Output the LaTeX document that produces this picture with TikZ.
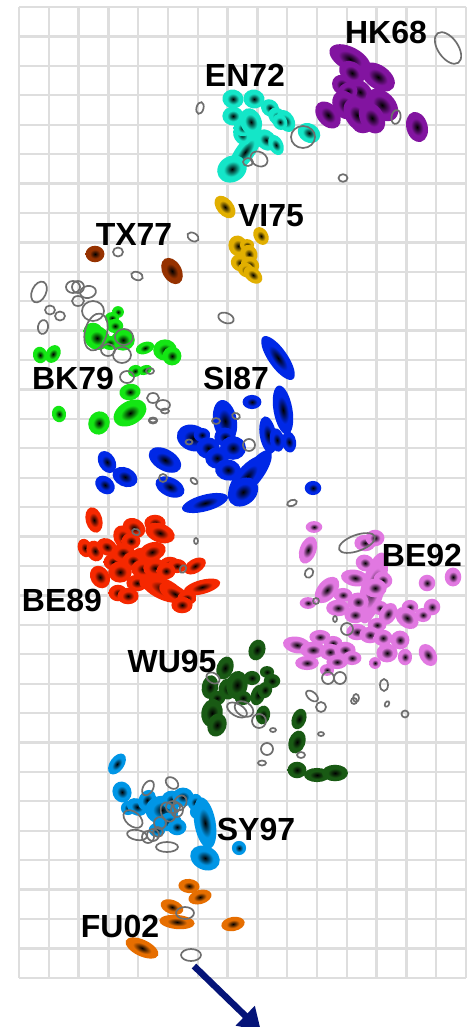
\documentclass[tikz,border=0pt]{standalone}
\usepackage{fontspec}
\setmainfont{Liberation Sans}
\usetikzlibrary{arrows.meta}
\definecolor{cHK}{RGB}{130,20,160}
\definecolor{cEN}{RGB}{20,230,200}
\definecolor{cVI}{RGB}{225,175,0}
\definecolor{cTX}{RGB}{150,50,0}
\definecolor{cBK}{RGB}{20,230,20}
\definecolor{cSI}{RGB}{0,40,230}
\definecolor{cBEa}{RGB}{245,40,0}
\definecolor{cBEb}{RGB}{225,120,225}
\definecolor{cWU}{RGB}{25,90,20}
\definecolor{cSY}{RGB}{0,150,230}
\definecolor{cFU}{RGB}{230,110,0}
\definecolor{gridc}{RGB}{222,222,222}
\definecolor{ellg}{RGB}{110,110,110}
\definecolor{arrc}{RGB}{5,20,120}
\colorlet{blobc}{red}
\pgfdeclareradialshading[blobc]{blobsh}{\pgfpoint{0bp}{0bp}}{color(0bp)=(black);color(14bp)=(blobc);color(25bp)=(blobc);color(50bp)=(blobc)}
\newcommand\bl[5]{\begin{scope}[transform canvas={shift={(#1,#2)},rotate=#5}]\shade[shading=blobsh] (0,0) ellipse [x radius={1.18*#3}, y radius={1.18*#4}];\end{scope}}
\newcommand\gr[5]{\draw[grayell,shift={(#1,#2)},rotate=#5] (0,0) ellipse [x radius=#3, y radius=#4];}
\tikzset{
  grayell/.style={draw=ellg,line width=1.7pt},
  gridl/.style={draw=gridc,line width=2.3pt},
  lab/.style={font=\fontsize{32}{32}\selectfont\bfseries,inner sep=0pt,text=black},
}
\begin{document}
\begin{tikzpicture}[x=1pt,y=-1pt]
\useasboundingbox (0,0) rectangle (466,1027);
\fill[white] (0,0) rectangle (466,1027);
% grid
\foreach \i in {0,...,15} \draw[gridl] ({19+29.8*\i},7) -- ({19+29.8*\i},978);
\foreach \j in {0,...,33} \draw[gridl] (19,{7+29.42*\j}) -- (466,{7+29.42*\j});
% HK68
\colorlet{blobc}{cHK}
\bl{350}{59}{19}{10}{-28}
\bl{378}{77}{16}{10}{-35}
\bl{352}{73}{12}{9}{-40}
\bl{342}{85}{9}{8}{-50}
\bl{360}{92}{12}{9}{-45}
\bl{348}{91}{8}{7}{0}
\bl{382}{105}{16}{11}{-45}
\bl{363}{125}{9}{7}{0}
\bl{345}{105}{13}{10}{-60}
\bl{328}{115}{13}{9}{-50}
\bl{357}{115}{15}{10}{-60}
\bl{372}{118}{14}{10}{-60}
\bl{417}{127}{13}{9}{-75}
% EN72
\colorlet{blobc}{cEN}
\bl{245}{152}{22}{8}{55}
\bl{232}{169}{13}{11}{30}
\bl{242}{135}{9}{7}{-60}
\bl{243}{128}{8}{7}{0}
\bl{233}{99}{9}{8}{-10}
\bl{254}{99}{9}{8}{-10}
\bl{270}{108}{8}{7}{-40}
\bl{233}{116}{9}{8}{0}
\bl{251}{122}{12}{9}{-70}
\bl{278}{117}{9}{7}{-40}
\bl{286}{121}{10}{7}{-60}
\bl{280}{122}{7}{6}{-60}
\bl{266}{140}{10}{8}{-45}
\bl{276}{145}{9}{6}{-65}
\bl{309}{133}{10}{8}{-30}
% VI75
\colorlet{blobc}{cVI}
\bl{225}{207}{11}{7}{-50}
\bl{261}{236}{8}{6}{-60}
\bl{238}{246}{9}{8}{-70}
\bl{247}{245}{6}{5}{0}
\bl{249}{254}{8}{7}{-60}
\bl{240}{263}{8}{7}{-30}
\bl{250}{265}{8}{7}{-30}
\bl{246}{270}{7}{6}{-30}
\bl{253}{275}{9}{6}{-40}
% TX77
\colorlet{blobc}{cTX}
\bl{95}{254}{8}{7}{0}
\bl{172}{271}{12}{8}{-60}
% BK79
\colorlet{blobc}{cBK}
\bl{118}{312}{5}{5}{0}
\bl{112}{318}{6}{5}{0}
\bl{115}{326}{7}{6}{0}
\bl{93}{331}{8}{7}{0}
\bl{97}{338}{11}{10}{-30}
\bl{123}{340}{10}{9}{0}
\bl{110}{343}{7}{6}{0}
\bl{40}{355}{7}{6}{-80}
\bl{53}{354}{8}{6}{60}
\bl{145}{348}{8}{5}{20}
\bl{165}{350}{10}{9}{0}
\bl{172}{356}{8}{8}{0}
\bl{135}{371}{6}{5}{20}
\bl{145}{370}{6}{4}{20}
\bl{130}{392}{9}{7}{10}
\bl{59}{414}{7}{6}{-80}
\bl{99}{423}{10}{9}{70}
\bl{130}{413}{15}{10}{30}
% SI87
\colorlet{blobc}{cSI}
\bl{278}{358}{22}{8}{-55}
\bl{252}{402}{8}{6}{0}
\bl{283}{410}{21}{8}{-80}
\bl{225}{421}{18}{10}{-80}
\bl{193}{438}{14}{11}{-20}
\bl{202}{435}{7}{6}{0}
\bl{225}{437}{9}{8}{0}
\bl{208}{448}{10}{9}{0}
\bl{233}{448}{11}{10}{0}
\bl{217}{458}{10}{9}{0}
\bl{228}{470}{11}{9}{-10}
\bl{268}{435}{16}{7}{-80}
\bl{277}{440}{10}{6}{-80}
\bl{289}{442}{9}{6}{-80}
\bl{165}{460}{15}{9}{-30}
\bl{107}{462}{10}{7}{-60}
\bl{125}{477}{11}{8}{-25}
\bl{105}{485}{9}{7}{-40}
\bl{170}{487}{13}{8}{-25}
\bl{255}{472}{22}{8}{55}
\bl{247}{477}{22}{9}{50}
\bl{243}{492}{14}{11}{40}
\bl{205}{503}{20}{7}{15}
\bl{313}{488}{7}{6}{0}
% BE89
\colorlet{blobc}{cBEa}
\bl{94}{520}{11}{7}{-75}
\bl{134}{528}{10}{8}{-30}
\bl{155}{523}{9}{7}{0}
\bl{160}{533}{13}{8}{-20}
\bl{123}{537}{10}{8}{-70}
\bl{131}{541}{8}{7}{0}
\bl{85}{548}{8}{6}{-70}
\bl{95}{551}{9}{7}{-70}
\bl{107}{547}{9}{7}{-30}
\bl{113}{562}{8}{7}{0}
\bl{123}{553}{10}{8}{0}
\bl{142}{556}{9}{7}{0}
\bl{152}{552}{12}{8}{20}
\bl{133}{561}{9}{8}{0}
\bl{170}{565}{9}{7}{0}
\bl{177}{566}{8}{6}{0}
\bl{100}{577}{10}{8}{-60}
\bl{120}{572}{10}{9}{0}
\bl{143}{569}{10}{8}{0}
\bl{155}{568}{10}{8}{0}
\bl{166}{571}{8}{7}{0}
\bl{195}{566}{10}{6}{30}
\bl{137}{583}{9}{7}{0}
\bl{150}{582}{9}{7}{0}
\bl{163}{589}{20}{9}{-25}
\bl{175}{594}{15}{7}{-30}
\bl{202}{587}{16}{6}{15}
\bl{118}{593}{8}{7}{0}
\bl{128}{596}{9}{7}{0}
\bl{187}{598}{8}{6}{0}
\bl{182}{605}{9}{7}{0}
% BE92
\colorlet{blobc}{cBEb}
\bl{373}{588}{31}{10}{75}
\bl{314}{527}{7}{5}{0}
\bl{308}{550}{12}{7}{70}
\bl{365}{543}{9}{7}{0}
\bl{375}{538}{8}{7}{0}
\bl{365}{563}{8}{7}{-20}
\bl{355}{578}{12}{7}{-10}
\bl{383}{580}{8}{7}{-20}
\bl{375}{588}{10}{8}{0}
\bl{327}{590}{13}{8}{50}
\bl{427}{583}{7}{7}{0}
\bl{453}{577}{7}{8}{0}
\bl{343}{595}{8}{6}{0}
\bl{358}{602}{9}{8}{0}
\bl{308}{603}{7}{5}{0}
\bl{380}{608}{7}{6}{0}
\bl{388}{614}{10}{7}{60}
\bl{338}{608}{10}{7}{0}
\bl{410}{607}{7}{6}{0}
\bl{407}{618}{11}{8}{-40}
\bl{423}{615}{7}{6}{0}
\bl{432}{607}{7}{7}{0}
\bl{355}{615}{9}{7}{0}
\bl{377}{625}{8}{6}{0}
\bl{357}{632}{9}{7}{0}
\bl{370}{635}{9}{7}{0}
\bl{320}{637}{9}{6}{0}
\bl{333}{643}{8}{6}{0}
\bl{383}{638}{8}{7}{0}
\bl{400}{640}{8}{8}{0}
\bl{297}{645}{12}{7}{-10}
\bl{313}{650}{11}{7}{0}
\bl{330}{652}{9}{7}{0}
\bl{345}{650}{9}{7}{0}
\bl{387}{653}{9}{8}{0}
\bl{405}{657}{6}{7}{0}
\bl{428}{655}{10}{7}{-60}
\bl{307}{663}{10}{6}{0}
\bl{337}{662}{9}{6}{0}
\bl{352}{658}{8}{6}{0}
\bl{327}{670}{6}{5}{0}
\bl{375}{663}{5}{5}{0}
% WU95
\colorlet{blobc}{cWU}
\bl{257}{650}{9}{7}{70}
\bl{225}{668}{10}{7}{70}
\bl{210}{687}{10}{7}{80}
\bl{228}{689}{9}{8}{80}
\bl{237}{685}{12}{9}{80}
\bl{252}{678}{7}{6}{0}
\bl{267}{672}{6}{5}{0}
\bl{272}{681}{7}{6}{0}
\bl{258}{695}{9}{6}{70}
\bl{265}{690}{7}{6}{70}
\bl{243}{698}{7}{6}{0}
\bl{217}{698}{7}{6}{0}
\bl{212}{713}{12}{9}{80}
\bl{217}{725}{10}{8}{70}
\bl{263}{715}{8}{6}{80}
\bl{299}{719}{9}{6}{70}
\bl{297}{742}{10}{7}{70}
\bl{297}{770}{8}{7}{0}
\bl{317}{775}{11}{6}{0}
\bl{335}{773}{11}{7}{0}
% SY97
\colorlet{blobc}{cSY}
\bl{117}{764}{10}{6}{55}
\bl{122}{792}{9}{8}{-70}
\bl{128}{808}{6}{6}{0}
\bl{137}{807}{9}{7}{-30}
\bl{147}{800}{9}{7}{60}
\bl{162}{810}{14}{12}{0}
\bl{172}{800}{9}{8}{0}
\bl{183}{797}{9}{8}{0}
\bl{170}{822}{10}{8}{0}
\bl{177}{827}{8}{7}{0}
\bl{157}{830}{7}{6}{0}
\bl{195}{802}{7}{6}{70}
\bl{197}{812}{6}{6}{0}
\bl{205}{823}{22}{9}{-80}
\bl{205}{858}{13}{10}{-25}
\bl{239}{848}{6}{6}{0}
% FU02
\colorlet{blobc}{cFU}
\bl{189}{886}{9}{6}{-5}
\bl{200}{897}{10}{6}{15}
\bl{172}{907}{10}{6}{-20}
\bl{177}{922}{15}{6}{-5}
\bl{233}{924}{10}{6}{10}
\bl{142}{948}{15}{7}{-25}
% gray outlines
\gr{448}{48}{18}{10}{-55}
\gr{396}{117}{7}{4.5}{80}
\gr{343}{178}{4.5}{3.8}{0}
\gr{200}{108}{6}{3.5}{75}
\gr{303}{137}{12}{11}{0}
\gr{259}{159}{9}{7}{-30}
\gr{248}{162}{5}{4}{0}
\gr{118}{252}{5}{4.5}{0}
\gr{137}{276}{6}{4}{-20}
\gr{193}{237}{6}{4}{-30}
\gr{226}{318}{8}{5}{-20}
\gr{39}{292}{11}{7}{65}
\gr{73}{287}{7}{6}{0}
\gr{78}{287}{6}{6}{0}
\gr{88}{292}{8}{6}{10}
\gr{78}{301}{6}{5}{0}
\gr{93}{311}{11}{10}{0}
\gr{50}{310}{5}{4.5}{0}
\gr{60}{316}{5}{4.5}{0}
\gr{43}{327}{7}{5}{80}
\gr{96}{332}{19}{11}{75}
\gr{124}{337}{9}{8}{0}
\gr{108}{350}{7}{6}{0}
\gr{122}{355}{9}{8}{0}
\gr{127}{377}{7}{6}{0}
\gr{150}{371}{4}{3}{0}
\gr{153}{398}{6}{5}{0}
\gr{163}{405}{7}{5}{0}
\gr{165}{411}{4}{2.5}{0}
\gr{153}{420}{4}{2.5}{0}
\gr{189}{442}{3.5}{2.5}{0}
\gr{216}{421}{4}{3}{0}
\gr{236}{416}{4}{3}{-20}
\gr{249}{445}{6}{6}{0}
\gr{163}{478}{4}{4}{0}
\gr{194}{481}{4}{2.5}{-40}
\gr{153}{421}{4}{2.5}{0}
\gr{292}{503}{5}{3}{20}
\gr{136}{532}{4}{3}{-20}
\gr{196}{541}{2}{3}{0}
\gr{183}{569}{4}{3}{60}
\gr{357}{543}{19}{8}{20}
\gr{309}{573}{5}{4}{60}
\gr{316}{601}{3}{3}{0}
\gr{335}{619}{2}{3}{0}
\gr{347}{629}{6}{6}{0}
\gr{328}{678}{6}{6}{0}
\gr{340}{678}{6}{6}{0}
\gr{384}{685}{4}{6}{0}
\gr{312}{696}{7}{4}{-40}
\gr{321}{707}{5}{5}{0}
\gr{356}{698}{3}{4}{0}
\gr{354}{701}{3}{3}{0}
\gr{387}{704}{3}{2}{60}
\gr{405}{714}{3.5}{3.5}{0}
\gr{213}{678}{7}{5}{-30}
\gr{237}{710}{11}{6}{-30}
\gr{244}{709}{10}{7}{-30}
\gr{259}{721}{7}{7}{0}
\gr{273}{730}{3}{2}{0}
\gr{267}{749}{6}{6}{0}
\gr{262}{763}{4}{2.5}{0}
\gr{301}{755}{4}{3}{0}
\gr{321}{734}{3}{2}{0}
\gr{148}{788}{8}{5}{60}
\gr{172}{783}{7}{5}{-40}
\gr{180}{803}{8}{6}{60}
\gr{173}{807}{7}{6}{0}
\gr{168}{812}{7}{10}{20}
\gr{177}{810}{6}{7}{0}
\gr{133}{819}{11}{7}{-40}
\gr{160}{823}{6}{6}{0}
\gr{137}{835}{10}{5}{-10}
\gr{148}{837}{6}{6}{0}
\gr{153}{835}{6}{6}{0}
\gr{158}{832}{5}{5}{0}
\gr{167}{847}{11}{5}{0}
\gr{185}{913}{9}{6}{0}
\gr{191}{955}{10}{6}{0}
% labels
\node[lab] (hk) at (386,32) {HK68};
\node[lab] (en) at (245,75) {EN72};
\node[lab] (vi) at (271,216) {VI75};
\node[lab] (tx) at (134,234) {TX77};
\node[lab] (bk) at (73,378) {BK79};
\node[lab] (si) at (236,378) {SI87};
\node[lab] (bea) at (62,600) {BE89};
\node[lab] (beb) at (422,555) {BE92};
\node[lab] (wu) at (172,661) {WU95};
\node[lab] (sy) at (256,829) {SY97};
\node[lab] (fu) at (120,926) {FU02};
% arrow
\coordinate (arrS) at (194,966);
\coordinate (arrE) at (261,1031);
\draw[arrc,line width=6.5pt,-{Triangle[length=22pt,width=26pt]}] (arrS) -- (arrE);
\end{tikzpicture}
\end{document}
